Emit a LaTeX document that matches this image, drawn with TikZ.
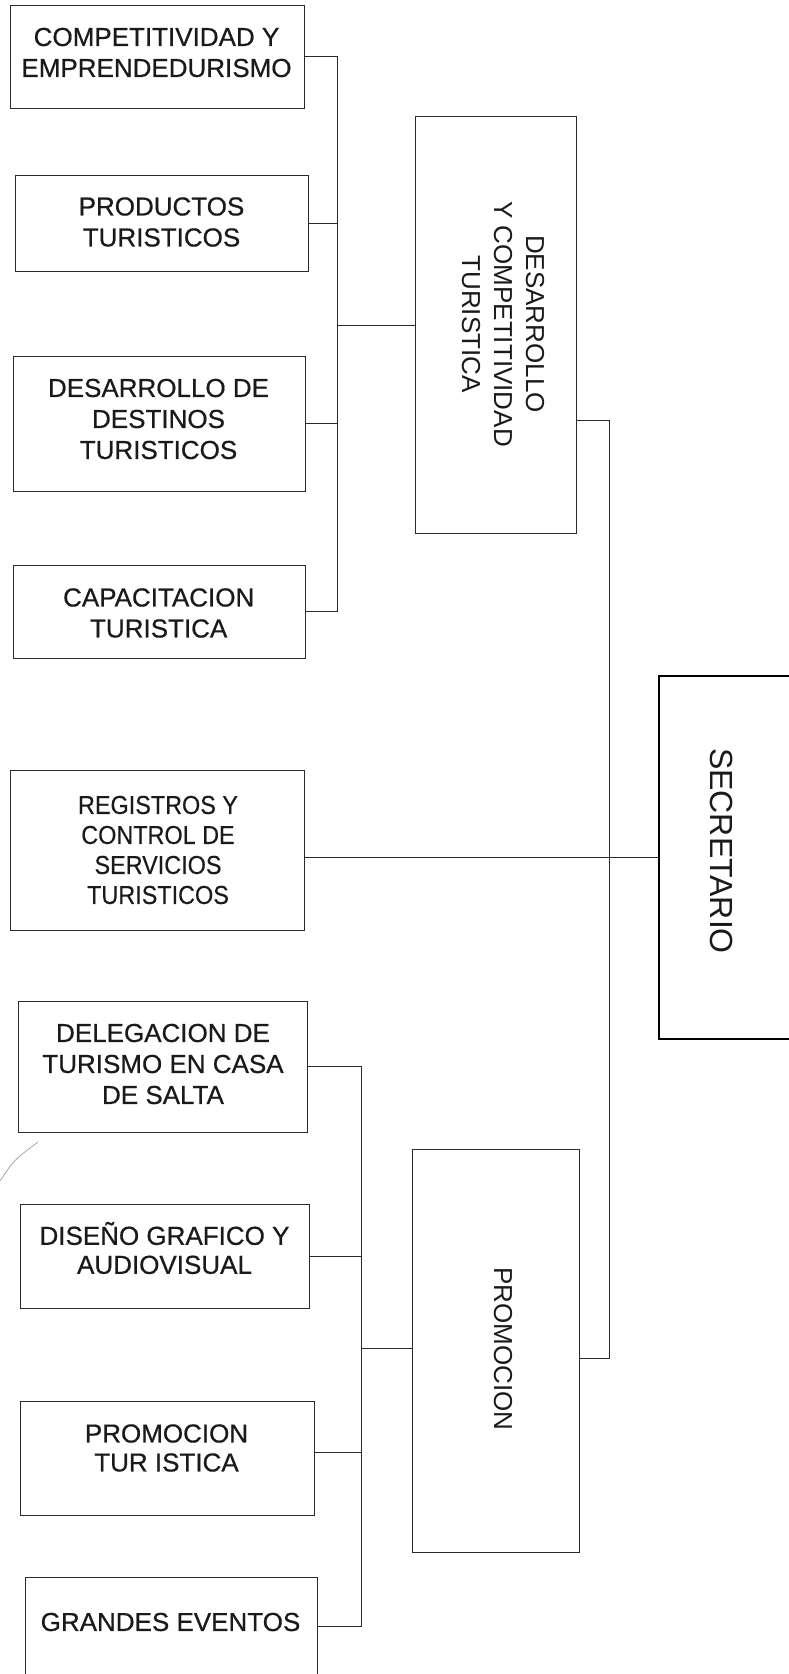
\documentclass[tikz,border=0pt]{standalone}
\usepackage{fontspec}
\setmainfont{Liberation Sans}
\newfontfamily\boxfont[FakeBold=0.6]{Liberation Sans}
\newfontfamily\narrowfont[FakeStretch=0.9,FakeBold=0.3]{Liberation Sans}
\definecolor{linec}{HTML}{2A2A2A}
\definecolor{textc}{HTML}{1A1A1A}
\begin{document}
\begin{tikzpicture}[x=1pt,y=-1pt,
  box/.style={draw=linec, line width=1pt, inner sep=0pt},
  bossbox/.style={draw=black, line width=1.8pt, inner sep=0pt},
  txt/.style={align=center, text=textc, inner sep=0pt, font=\boxfont\fontsize{26}{31}\selectfont},
  narrowtxt/.style={txt, font=\narrowfont\fontsize{26}{30}\selectfont},
  vtxt/.style={txt, rotate=-90, font=\fontsize{26}{32}\selectfont},
  bigvtxt/.style={txt, rotate=-90, font=\fontsize{32}{38}\selectfont},
  conn/.style={draw=linec, line width=1pt}]
\useasboundingbox (0,0) rectangle (789,1674);
\clip (0,0) rectangle (789,1674);

% left column, upper group
\node[box, minimum width=294pt, minimum height=103pt] (b1) at (157,56.5) {};
\node[txt] (t1) at (156.5,52.5) {COMPETITIVIDAD Y\\EMPRENDEDURISMO};
\node[box, minimum width=293pt, minimum height=96pt] (b2) at (161.5,223) {};
\node[txt] (t2) at (161.5,222) {PRODUCTOS\\TURISTICOS};
\node[box, minimum width=292pt, minimum height=135pt] (b3) at (159,423.5) {};
\node[txt] (t3) at (158.5,419) {DESARROLLO DE\\DESTINOS\\TURISTICOS};
\node[box, minimum width=292pt, minimum height=93pt] (b4) at (159,611.5) {};
\node[txt] (t4) at (158.7,613) {CAPACITACION\\TURISTICA};

% middle
\node[box, minimum width=294pt, minimum height=160pt] (b5) at (157,850) {};
\node[narrowtxt] (t5) at (158,850) {REGISTROS Y\\CONTROL DE\\SERVICIOS\\TURISTICOS};

% lower group
\node[box, minimum width=289pt, minimum height=131pt] (b6) at (162.5,1066.5) {};
\node[txt] (t6) at (163,1064) {DELEGACION DE\\TURISMO EN CASA\\DE SALTA};
\node[box, minimum width=289pt, minimum height=104pt] (b7) at (164.5,1256) {};
\node[txt, font=\boxfont\fontsize{26}{29}\selectfont] (t7) at (164.5,1248) {DISEÑO GRAFICO Y\\AUDIOVISUAL};
\node[box, minimum width=294pt, minimum height=114pt] (b8) at (167,1458) {};
\node[txt, font=\boxfont\fontsize{26}{29}\selectfont] (t8) at (166.5,1448) {PROMOCION\\TUR ISTICA};
\node[box, minimum width=292pt, minimum height=123pt] (b9) at (171,1638.5) {};
\node[txt] (t9) at (170.5,1622) {GRANDES EVENTOS};

% vertical boxes
\node[box, minimum width=161pt, minimum height=417pt] (b10) at (495.5,324.5) {};
\node[vtxt] (t10) at (503,324) {DESARROLLO\\Y COMPETITIVIDAD\\TURISTICA};
\node[box, minimum width=167pt, minimum height=403pt] (b11) at (495.5,1350.5) {};
\node[vtxt] (t11) at (503,1349) {PROMOCION};
\node[bossbox, minimum width=161pt, minimum height=363pt] (b12) at (739.5,857.5) {};
\node[bigvtxt] (t12) at (722,851) {SECRETARIO};

% junction coordinates
\coordinate (bus1) at (337,325);
\coordinate (bus2) at (361,1348);
\coordinate (r2) at (609,1358);

% connectors upper group
\draw[conn] (b1.east) -| (bus1);
\draw[conn] (b2.east) -| (bus1);
\draw[conn] (b3.east) -| (bus1);
\draw[conn] (b4.east) -| (bus1);
\draw[conn] (bus1) -- (b10.west |- bus1);

% DCT / PROMOCION to SECRETARIO line
\draw[conn] (b10.north east) ++(0,305) -| (r2) -- (b11.east |- r2);

% REGISTROS to SECRETARIO
\draw[conn] (b5.east |- b12.west) -- (b12.west);

% connectors lower group
\draw[conn] (b6.east) -| (bus2);
\draw[conn] (b7.east) -| (bus2);
\draw[conn] (b8.north east) ++(0,52) -| (bus2);
\draw[conn] (b9.north east) ++(0,50) -| (bus2);
\draw[conn] (bus2) -- (b11.west |- bus2);

% stray pen mark
\draw[gray!70, line width=0.8pt] (0,1181) .. controls (14,1160) .. (38,1142);
\end{tikzpicture}
\end{document}
